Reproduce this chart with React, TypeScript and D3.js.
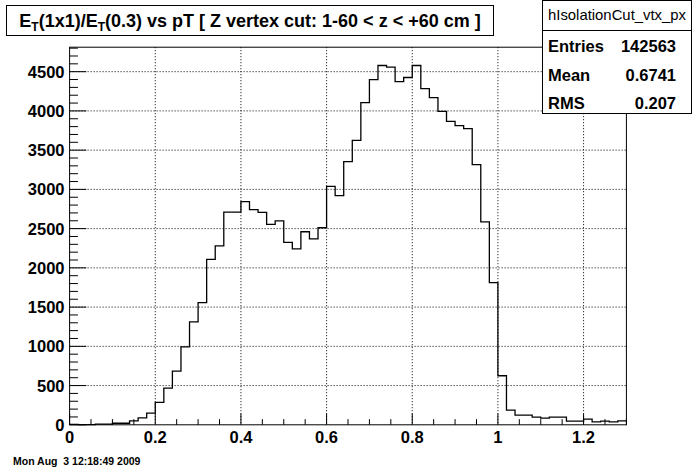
import React from "react";
import * as d3 from "d3";

// ---- data ----
const binLow = 0;
const binWidth = 0.02;
const counts: number[] = [
  5, 2, 3, 9, 9, 20, 20, 51, 87, 150,
  285, 468, 685, 992, 1311, 1558, 2107, 2281, 2711, 2711,
  2843, 2741, 2707, 2554, 2600, 2324, 2243, 2460, 2370, 2511,
  3038, 2920, 3355, 3625, 4106, 4400, 4579, 4557, 4374, 4426,
  4579, 4285, 4170, 3995, 3868, 3813, 3774, 3315, 2587, 1813,
  625, 187, 123, 123, 98, 85, 98, 98, 47, 47,
  72, 38, 47, 38, 51,
];
const xTicks = [0, 0.2, 0.4, 0.6, 0.8, 1, 1.2];
const xTickLabels = ["0", "0.2", "0.4", "0.6", "0.8", "1", "1.2"];
const yTicks = [0, 500, 1000, 1500, 2000, 2500, 3000, 3500, 4000, 4500];
const titleText = ["E", "T", "(1x1)/E", "T", "(0.3) vs pT [ Z vertex cut: 1-60 < z < +60 cm ]"];
const statsName = "hIsolationCut_vtx_px";
const statsLabels = ["Entries", "Mean", "RMS"];
const statsValues = ["142563", "0.6741", "0.207"];
const dateText = "Mon Aug  3 12:18:49 2009";

const W = 696;
const H = 472;
const FONT = "'Liberation Sans', Arial, Helvetica, sans-serif";

export default function App() {
  const left = 69.6, right = 626.4, top = 47.2, bottom = 424.8;
  const x = d3.scaleLinear().domain([0, 1.3]).range([left, right]);
  const y = d3.scaleLinear().domain([0, 4812]).range([bottom, top]);

  // histogram step path
  const pts: [number, number][] = [];
  pts.push([binLow, 0]);
  counts.forEach((c, i) => {
    const x0 = binLow + i * binWidth;
    pts.push([x0, c]);
    pts.push([x0 + binWidth, c]);
  });
  const line = d3
    .line<[number, number]>()
    .x((d) => x(d[0]))
    .y((d) => y(d[1]));
  const histPath = line(pts) || "";

  const yMinor = d3.range(0, 4801, 100);
  const xMinor = d3.range(0, 1.3001, 0.05);
  const yMajLen = 0.03 * (right - left);
  const xMajLen = 0.03 * (bottom - top);

  return (
    <div style={{ position: "fixed", left: 0, top: 0, width: W, height: H, background: "#fff" }}>
      <svg width={W} height={H} style={{ display: "block" }} fontFamily={FONT}>
        <rect x={0} y={0} width={W} height={H} fill="#fff" />
        {/* grid */}
        {xTicks.filter((t) => t > 0).map((t) => (
          <line key={"gx" + t} x1={x(t)} x2={x(t)} y1={top} y2={bottom} stroke="#000" strokeWidth={1} strokeDasharray="1 2" />
        ))}
        {yTicks.filter((t) => t > 0).map((t) => (
          <line key={"gy" + t} x1={left} x2={right} y1={y(t)} y2={y(t)} stroke="#000" strokeWidth={1} strokeDasharray="1 2" />
        ))}
        {/* histogram */}
        <path d={histPath} fill="none" stroke="#000" strokeWidth={1.3} />
        {/* frame */}
        <rect x={left} y={top} width={right - left} height={bottom - top} fill="none" stroke="#000" strokeWidth={1} />
        {/* y ticks */}
        {yMinor.map((v) => {
          const major = v % 500 === 0;
          return (
            <line key={"yt" + v} x1={left} x2={left + (major ? yMajLen : yMajLen / 2)} y1={y(v)} y2={y(v)} stroke="#000" strokeWidth={1} />
          );
        })}
        {/* x ticks */}
        {xMinor.map((v, i) => {
          const major = i % 4 === 0;
          return (
            <line key={"xt" + i} x1={x(v)} x2={x(v)} y1={bottom} y2={bottom - (major ? xMajLen : xMajLen / 2)} stroke="#000" strokeWidth={1} />
          );
        })}
        {/* y labels */}
        {yTicks.map((t) => (
          <text key={"yl" + t} x={64.5} y={y(t)} dy="0.36em" textAnchor="end" fontSize={16.5} fontWeight="bold">
            {String(t)}
          </text>
        ))}
        {/* x labels */}
        {xTicks.map((t, i) => (
          <text key={"xl" + t} x={x(t)} y={443} textAnchor="middle" fontSize={16.5} fontWeight="bold">
            {xTickLabels[i]}
          </text>
        ))}
        {/* title box */}
        <rect x={6.5} y={5.5} width={487} height={30} fill="#fff" stroke="#000" strokeWidth={1} />
        <text x={250} y={26.5} textAnchor="middle" fontSize={18} fontWeight="bold">
          <tspan>{titleText[0]}</tspan>
          <tspan fontSize={12} dy={4}>{titleText[1]}</tspan>
          <tspan dy={-4}>{titleText[2]}</tspan>
          <tspan fontSize={12} dy={4}>{titleText[3]}</tspan>
          <tspan dy={-4}>{titleText[4]}</tspan>
        </text>
        {/* stats box */}
        <rect x={542.5} y={0.5} width={149} height={113} fill="#fff" stroke="#000" strokeWidth={1} />
        <line x1={542.5} x2={691.5} y1={30.5} y2={30.5} stroke="#000" strokeWidth={1} />
        <text x={548} y={20} fontSize={14.5} textLength={138} lengthAdjust="spacingAndGlyphs">
          {statsName}
        </text>
        {statsLabels.map((l, i) => (
          <text key={"sl" + l} x={548} y={52 + i * 28.5} fontSize={16.5} fontWeight="bold">
            {l}
          </text>
        ))}
        {statsValues.map((v, i) => (
          <text key={"sv" + i} x={676} y={52 + i * 28.5} textAnchor="end" fontSize={16.5} fontWeight="bold">
            {v}
          </text>
        ))}
        {/* date */}
        <text x={13} y={465} fontSize={10.5} fontWeight="bold" style={{ whiteSpace: "pre" }}>
          {dateText}
        </text>
      </svg>
    </div>
  );
}
